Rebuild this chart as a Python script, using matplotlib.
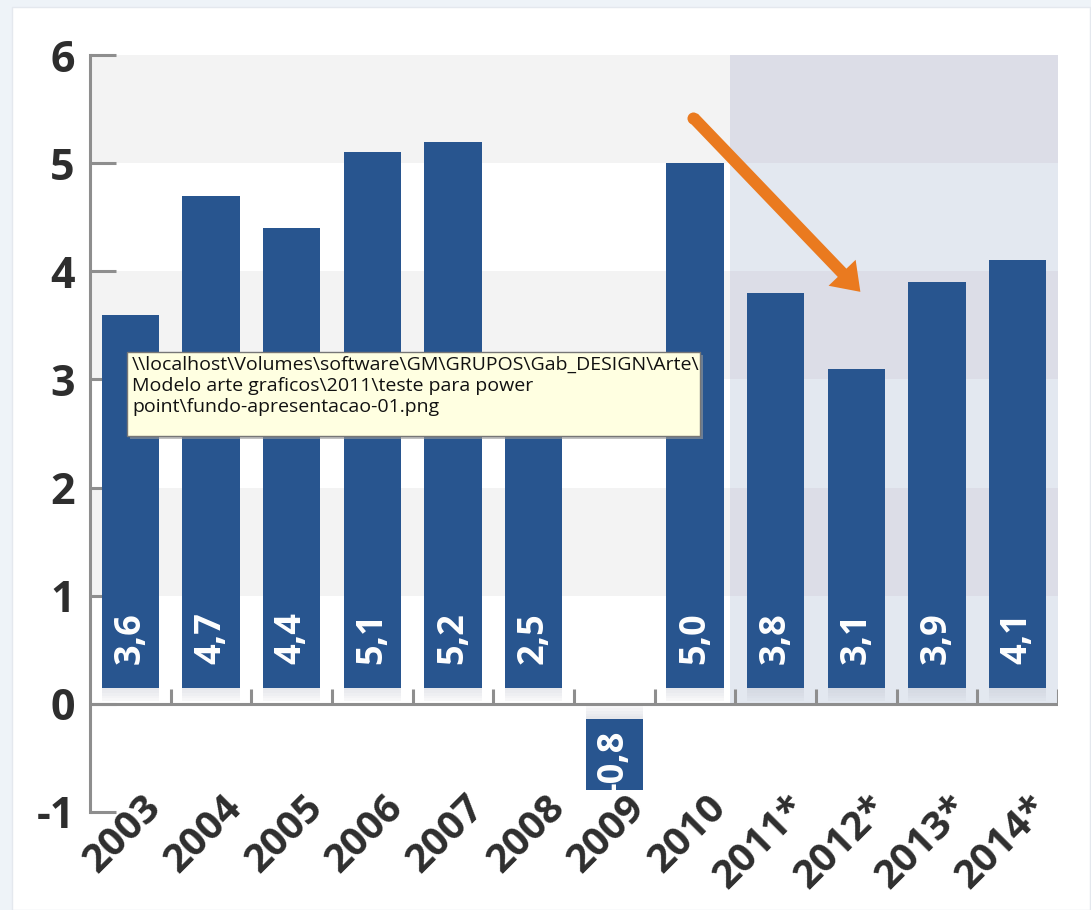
import matplotlib.pyplot as plt
from matplotlib.patches import Rectangle, FancyArrowPatch

# GDP growth per year (%), values from 2011 on are projections
years = ['2003', '2004', '2005', '2006', '2007', '2008', '2009',
         '2010', '2011*', '2012*', '2013*', '2014*']
growth = [3.6, 4.7, 4.4, 5.1, 5.2, 2.5, -0.8, 5.0, 3.8, 3.1, 3.9, 4.1]
value_labels = ['3,6', '4,7', '4,4', '5,1', '5,2', '2,5', '-0,8',
                '5,0', '3,8', '3,1', '3,9', '4,1']
y_ticks = [-1, 0, 1, 2, 3, 4, 5, 6]
first_forecast = 8

tooltip_text = ('\\\\localhost\\Volumes\\software\\GM\\GRUPOS\\Gab_DESIGN\\Arte\\\n'
                'Modelo arte graficos\\2011\\teste para power\n'
                'point\\fundo-apresentacao-01.png')

BAR_COLOR = '#28558f'
AXIS_GRAY = '#8e8e8e'
TEXT_DARK = '#2e2e2e'
GAP = 0.15          # bars float slightly off the zero line
W = 0.71

plt.rcParams['font.family'] = ['Open Sans', 'DejaVu Sans']

fig = plt.figure(figsize=(10.91, 9.10), dpi=100)
fig.patch.set_facecolor('#eef3f8')
fig.add_artist(Rectangle((12 / 1091, 0), (1090 - 12) / 1091, 1 - 7 / 910,
                         transform=fig.transFigure, facecolor='white',
                         edgecolor='#e4e8ee', lw=1, zorder=-10))

ax = fig.add_axes([90 / 1091, 1 - 812 / 910, (1058 - 90) / 1091, (812 - 55) / 910])
ax.set_facecolor('none')
n = len(years)
x0, x1 = -0.5, n - 0.5
ax.set_xlim(x0, x1)
ax.set_ylim(-1, 6)

# alternating horizontal bands, forecast years tinted blue-gray
xf = first_forecast - 0.56
for k in range(6):
    dark = k % 2 == 1
    ax.add_patch(Rectangle((x0, k), xf - x0, 1, facecolor='#f3f3f3' if dark else 'white',
                           lw=0, zorder=0))
    ax.add_patch(Rectangle((xf, k), x1 - xf, 1, facecolor='#dcdde7' if dark else '#e3e8f0',
                           lw=0, zorder=0))

# bars with a soft shadow towards the zero line
for i, v in enumerate(growth):
    if v >= 0:
        bottom, height = GAP, v - GAP
        for s in range(5):
            ax.add_patch(Rectangle((i - W / 2, GAP - 0.025 * (s + 1)), W, 0.025,
                                   facecolor='#b8bcc8', alpha=0.35 - 0.06 * s, lw=0, zorder=1))
    else:
        bottom, height = -GAP + 0.01, v + GAP - 0.01
        for s in range(5):
            ax.add_patch(Rectangle((i - W / 2, -GAP + 0.01 + 0.025 * s), W, 0.025,
                                   facecolor='#b8bcc8', alpha=0.35 - 0.06 * s, lw=0, zorder=1))
    ax.bar(i, height, bottom=bottom, width=W, color=BAR_COLOR, zorder=2)

    label_y = 0.37 if v >= 0 else v - 0.02
    ax.text(i, label_y, value_labels[i], rotation=90, ha='center', va='bottom',
            color='white', fontsize=26, fontweight='bold', zorder=3)

# zero line with short separators between the years
ax.axhline(0, color=AXIS_GRAY, lw=2.2, zorder=3)
ax.vlines([i + 0.5 for i in range(n)], 0, 0.14, color=AXIS_GRAY, lw=2.2, zorder=3)

for side in ['top', 'right', 'bottom']:
    ax.spines[side].set_visible(False)
ax.spines['left'].set_color(AXIS_GRAY)
ax.spines['left'].set_linewidth(2.2)
ax.spines['left'].set_zorder(4)
ax.set_yticks(y_ticks)
ax.set_yticklabels([str(t) for t in y_ticks])
ax.tick_params(axis='y', direction='in', length=19, width=2.2, color=AXIS_GRAY,
               pad=11, labelsize=31, labelcolor=TEXT_DARK)
for lab in ax.get_yticklabels():
    lab.set_fontweight('bold')
ax.set_xticks([])

# year labels set diagonally under the bars
for i, yr in enumerate(years):
    ax.text(i + 0.14, -0.78, yr, rotation=45, rotation_mode='anchor', ha='right',
            va='top', fontsize=29, fontweight='bold', color=TEXT_DARK,
            clip_on=False, zorder=5)

# orange arrow pointing to the projected slowdown
ax.add_patch(FancyArrowPatch((6.98, 5.42), (9.05, 3.81),
                             arrowstyle='simple,head_length=19,head_width=27,tail_width=8.6',
                             mutation_scale=1, shrinkA=0, shrinkB=0,
                             color='#ea7a1f', lw=0, zorder=6))
ax.scatter([6.98], [5.42], s=75, color='#ea7a1f', lw=0, zorder=6)

# file path tooltip on top of the chart
bx, by, bw, bh = 127, 352, 573, 84
fig.add_artist(Rectangle(((bx + 3) / 1091, 1 - (by + bh + 3) / 910), bw / 1091, bh / 910,
                         transform=fig.transFigure, facecolor='#9a9a9a', alpha=0.6,
                         lw=0, zorder=20))
fig.add_artist(Rectangle((bx / 1091, 1 - (by + bh) / 910), bw / 1091, bh / 910,
                         transform=fig.transFigure, facecolor='#ffffe1',
                         edgecolor='#767676', lw=1, zorder=21))
fig.text((bx + 5) / 1091, 1 - (by + 4) / 910, tooltip_text, ha='left', va='top',
         fontsize=14, color='#111111', linespacing=1.22, zorder=22)

fig.savefig('out.png', dpi=100, facecolor=fig.get_facecolor())
